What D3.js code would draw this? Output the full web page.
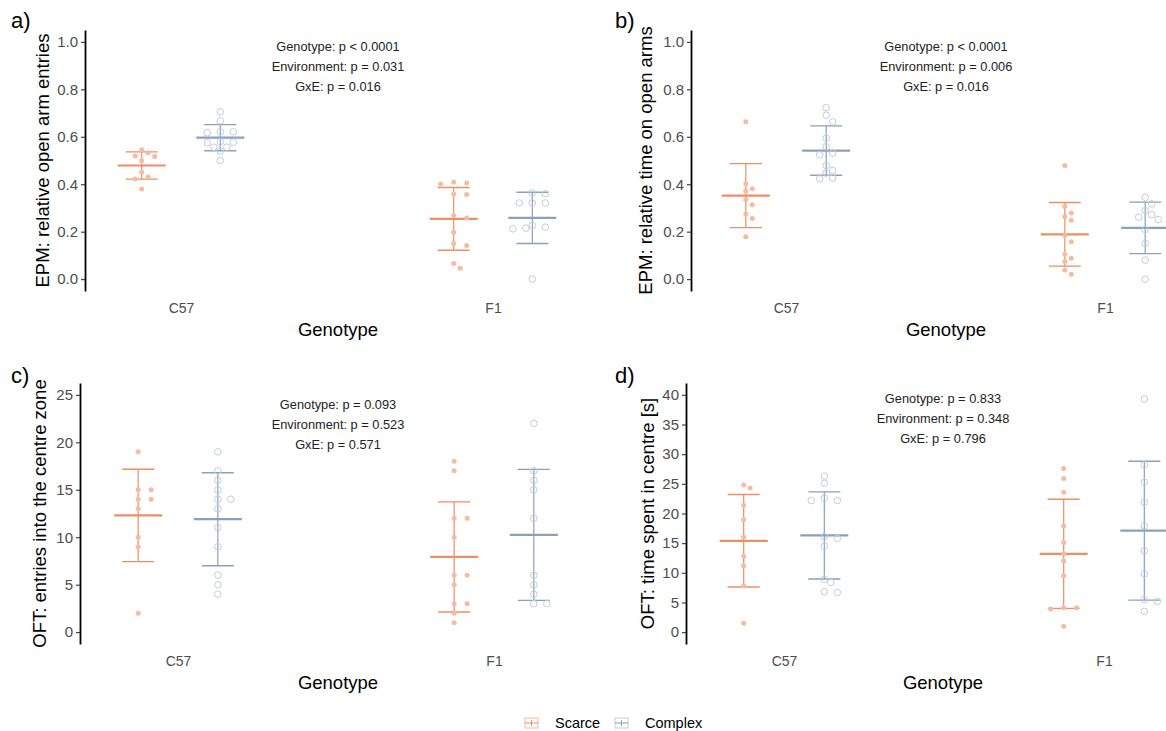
<!DOCTYPE html>
<html>
<head>
<meta charset="utf-8">
<script src="https://cdn.jsdelivr.net/npm/d3@7"></script>
<style>
body { margin: 0; background: #fff; }
text { font-family: "Liberation Sans", Arial, sans-serif; }
</style>
</head>
<body>
<svg id="chart" width="1166" height="731"></svg>
<script>
var genotypes = ["C57", "F1"];
var environments = ["Scarce", "Complex"];

// a) EPM: relative open arm entries
var aC57Scarce = [0.545, 0.533, 0.519, 0.517, 0.499, 0.451, 0.430, 0.422, 0.380];
var aC57Complex = [0.705, 0.667, 0.621, 0.617, 0.621, 0.579, 0.577, 0.575, 0.556, 0.556, 0.540, 0.500];
var aF1Scarce = [0.408, 0.405, 0.401, 0.359, 0.357, 0.268, 0.258, 0.198, 0.150, 0.142, 0.066, 0.046];
var aF1Complex = [0.363, 0.360, 0.321, 0.321, 0.321, 0.226, 0.219, 0.215, 0.212, 0.000];
var aMean = [0.479, 0.596, 0.254, 0.258];
var aSD = [0.0575, 0.055, 0.132, 0.108];
var aStats = ["Genotype: p < 0.0001", "Environment: p = 0.031", "GxE: p = 0.016"];

// b) EPM: relative time on open arms
var bC57Scarce = [0.663, 0.402, 0.381, 0.370, 0.335, 0.314, 0.275, 0.256, 0.179];
var bC57Complex = [0.723, 0.691, 0.663, 0.594, 0.558, 0.531, 0.524, 0.479, 0.458, 0.447, 0.426, 0.423];
var bF1Scarce = [0.479, 0.307, 0.279, 0.263, 0.248, 0.184, 0.158, 0.105, 0.088, 0.074, 0.038, 0.021];
var bF1Complex = [0.345, 0.317, 0.289, 0.272, 0.261, 0.251, 0.209, 0.150, 0.080, 0.000];
var bMean = [0.352, 0.542, 0.189, 0.216];
var bSD = [0.135, 0.104, 0.134, 0.1085];
var bStats = ["Genotype: p < 0.0001", "Environment: p = 0.006", "GxE: p = 0.016"];

// c) OFT: entries into the centre zone
var cC57Scarce = [19, 15, 15, 14, 14, 13, 10, 9, 2];
var cC57Complex = [19, 17, 16, 15, 14, 14, 13, 11, 9, 6, 5, 4];
var cF1Scarce = [18, 17, 12, 12, 10, 6, 6, 5, 3, 3, 2, 1];
var cF1Complex = [22, 17, 16, 15, 12, 6, 5, 4, 3, 3];
var cMean = [12.3, 11.9, 7.92, 10.25];
var cSD = [4.87, 4.9, 5.8, 6.9];
var cStats = ["Genotype: p = 0.093", "Environment: p = 0.523", "GxE: p = 0.571"];

// d) OFT: time spent in centre [s]
var dC57Scarce = [24.8, 24.3, 21.4, 19.0, 16.0, 12.8, 11.2, 7.8, 1.5];
var dC57Complex = [26.3, 25.1, 22.6, 22.2, 22.2, 16.1, 15.8, 14.5, 8.9, 8.4, 6.8, 6.7];
var dF1Scarce = [27.6, 25.9, 23.6, 17.9, 15.1, 13.2, 12.0, 9.5, 4.1, 4.1, 3.9, 1.0];
var dF1Complex = [39.3, 28.2, 25.3, 21.9, 17.9, 13.7, 9.8, 5.5, 5.2, 3.5];
var dMean = [15.4, 16.3, 13.2, 17.1];
var dSD = [7.8, 7.35, 9.2, 11.7];
var dStats = ["Genotype: p = 0.833", "Environment: p = 0.348", "GxE: p = 0.796"];

var abTicks = [0, 0.2, 0.4, 0.6, 0.8, 1.0];
var cTicks = [0, 5, 10, 15, 20, 25];
var dTicks = [0, 5, 10, 15, 20, 25, 30, 35, 40];

// colours
var lineCol = { Scarce: "#EE8E62", Complex: "#8D9FBC" };
var pointCol = { Scarce: "#F5BBA4", Complex: "#C3CCDB" };

var svg = d3.select("#chart");

// panel layout
var panels = [
    { tag: "a)", title: "EPM: relative open arm entries", groups: [aC57Scarce, aC57Complex, aF1Scarce, aF1Complex],
      mean: aMean, sd: aSD, stats: aStats, ticks: abTicks, fmt: d3.format(".1f"), domain: [-0.05, 1.05],
      axisX: 85, xC57: 181, xF1: 493, top: 30, bottom: 291, titleX: 43, tagX: 11, tagY: 28, annoX: 338, annoY: 51 },
    { tag: "b)", title: "EPM: relative time on open arms", groups: [bC57Scarce, bC57Complex, bF1Scarce, bF1Complex],
      mean: bMean, sd: bSD, stats: bStats, ticks: abTicks, fmt: d3.format(".1f"), domain: [-0.05, 1.05],
      axisX: 691, xC57: 786, xF1: 1105, top: 30, bottom: 291, titleX: 646, tagX: 615, tagY: 28, annoX: 946, annoY: 51 },
    { tag: "c)", title: "OFT: entries into the centre zone", groups: [cC57Scarce, cC57Complex, cF1Scarce, cF1Complex],
      mean: cMean, sd: cSD, stats: cStats, ticks: cTicks, fmt: d3.format("d"), domain: [-1.25, 26.25],
      axisX: 80, xC57: 178, xF1: 494, top: 383, bottom: 644, titleX: 40, tagX: 11, tagY: 383, annoX: 338, annoY: 409 },
    { tag: "d)", title: "OFT: time spent in centre [s]", groups: [dC57Scarce, dC57Complex, dF1Scarce, dF1Complex],
      mean: dMean, sd: dSD, stats: dStats, ticks: dTicks, fmt: d3.format("d"), domain: [-2, 42],
      axisX: 686, xC57: 784, xF1: 1104, top: 383, bottom: 644, titleX: 648, tagX: 615, tagY: 383, annoX: 943, annoY: 403 }
];

// simple beeswarm: put each point at the centre, or move it sideways until it does not overlap
function swarm(vals, y, cx) {
    var placed = [];
    vals.slice().sort(d3.descending).forEach(function(v) {
        var py = y(v), off = 0;
        for (var k = 0; k < 40; k++) {
            off = (k % 2 === 1 ? 1 : -1) * Math.ceil(k / 2) * 6.5;
            var hit = placed.some(function(p) { return Math.hypot(p.x - (cx + off), p.y - py) < 7; });
            if (!hit) break;
        }
        placed.push({ x: cx + off, y: py });
    });
    return placed;
}

panels.forEach(function(p) {
    var g = svg.append("g");

    var y = d3.scaleLinear().domain(p.domain).range([p.bottom, p.top]);
    var x = d3.scalePoint().domain(genotypes).range([p.xC57, p.xF1]);
    var dodge = (p.xF1 - p.xC57) * 0.126;
    var envOffset = { Scarce: -dodge, Complex: dodge };

    // y axis
    var yAxis = g.append("g")
        .attr("transform", "translate(" + p.axisX + ",0)")
        .call(d3.axisLeft(y).tickValues(p.ticks).tickFormat(p.fmt).tickSize(4).tickSizeOuter(0).tickPadding(3));
    yAxis.select(".domain").attr("stroke", "#000").attr("stroke-width", 1.8);
    yAxis.selectAll(".tick line").attr("stroke", "#333").attr("stroke-width", 1.1);
    yAxis.selectAll(".tick text").attr("fill", "#4D4D4D").style("font-size", "15px");

    // x axis (labels only)
    var xAxis = g.append("g")
        .attr("transform", "translate(0," + p.bottom + ")")
        .call(d3.axisBottom(x).tickSize(0).tickPadding(12));
    xAxis.select(".domain").remove();
    xAxis.selectAll(".tick text").attr("fill", "#4D4D4D").style("font-size", "14px");

    // titles
    g.append("text")
        .attr("transform", "translate(" + p.titleX + "," + ((p.top + p.bottom) / 2) + ") rotate(-90)")
        .attr("text-anchor", "middle").attr("dy", "0.35em")
        .style("font-size", "18.5px").attr("fill", "#000")
        .text(p.title);
    g.append("text")
        .attr("x", p.annoX).attr("y", p.bottom + 45)
        .attr("text-anchor", "middle")
        .style("font-size", "18.5px").attr("fill", "#000")
        .text("Genotype");
    g.append("text")
        .attr("x", p.tagX).attr("y", p.tagY)
        .style("font-size", "22px").attr("fill", "#000")
        .text(p.tag);

    // p-value annotation
    g.selectAll("text.stat")
        .data(p.stats)
        .enter()
        .append("text")
        .attr("class", "stat")
        .attr("x", p.annoX)
        .attr("y", function(d, i) { return p.annoY + i * 20; })
        .attr("text-anchor", "middle")
        .style("font-size", "12.8px").attr("fill", "#222")
        .text(function(d) { return d; });

    // groups: C57 Scarce, C57 Complex, F1 Scarce, F1 Complex
    p.groups.forEach(function(vals, i) {
        var geno = genotypes[Math.floor(i / 2)];
        var env = environments[i % 2];
        var cx = x(geno) + envOffset[env];
        var m = p.mean[i], s = p.sd[i];
        var col = lineCol[env];

        var eb = g.append("g");
        eb.append("line")
            .attr("x1", cx).attr("x2", cx)
            .attr("y1", y(m - s)).attr("y2", y(m + s))
            .attr("stroke", col).attr("stroke-width", 1.2);
        [m - s, m + s].forEach(function(v) {
            eb.append("line")
                .attr("x1", cx - 16).attr("x2", cx + 16)
                .attr("y1", y(v)).attr("y2", y(v))
                .attr("stroke", col).attr("stroke-width", 1.4);
        });
        eb.append("line")
            .attr("x1", cx - 24).attr("x2", cx + 24)
            .attr("y1", y(m)).attr("y2", y(m))
            .attr("stroke", col).attr("stroke-width", 2.2);

        var pts = swarm(vals, y, cx);
        var dots = g.selectAll(null)
            .data(pts)
            .enter()
            .append("circle")
            .attr("cx", function(d) { return d.x; })
            .attr("cy", function(d) { return d.y; });
        if (env === "Scarce") {
            dots.attr("r", 2.5).attr("fill", pointCol.Scarce);
        } else {
            dots.attr("r", 3.3).attr("fill", "none").attr("stroke", pointCol.Complex).attr("stroke-width", 1);
        }
    });
});

// legend
var legend = svg.append("g").attr("transform", "translate(0,723)");
var legendX = { Scarce: 525, Complex: 615 };
environments.forEach(function(env) {
    var lx = legendX[env];
    var k = legend.append("g").attr("transform", "translate(" + lx + ",0)");
    k.append("rect")
        .attr("x", 0).attr("y", -5).attr("width", 13).attr("height", 10)
        .attr("fill", "none").attr("stroke", pointCol[env]).attr("stroke-width", 1);
    k.append("line").attr("x1", 0).attr("x2", 13).attr("y1", 0).attr("y2", 0)
        .attr("stroke", lineCol[env]).attr("stroke-width", 1);
    k.append("line").attr("x1", 6.5).attr("x2", 6.5).attr("y1", -3).attr("y2", 3)
        .attr("stroke", lineCol[env]).attr("stroke-width", 1);
    k.append("text")
        .attr("x", 30).attr("y", 0).attr("dy", "0.35em")
        .style("font-size", "14.5px").attr("fill", "#000")
        .text(env);
});
</script>
</body>
</html>
